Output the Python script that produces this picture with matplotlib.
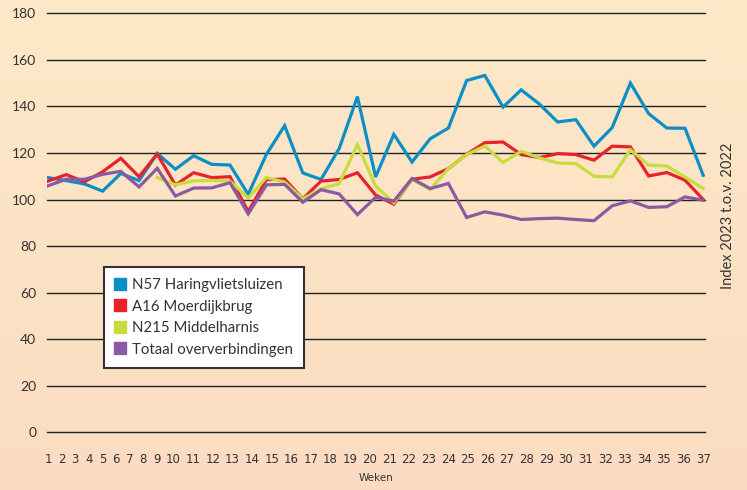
import numpy as np
import matplotlib
matplotlib.use("Agg")
import matplotlib.pyplot as plt
from matplotlib.colors import LinearSegmentedColormap
from matplotlib.lines import Line2D

weeks = list(range(1, 38))
week_labels = [str(w) for w in weeks]

n57 = [109.4, 108.1, 106.7, 103.6, 111.2, 108.1, 119.8, 113.0, 118.8, 115.1,
       114.8, 102.2, 119.4, 131.7, 111.4, 108.6, 121.9, 144.2, 109.7, 128.0,
       116.1, 126.1, 130.7, 151.1, 153.3, 139.7, 147.1, 141.0, 133.3, 134.3,
       122.9, 130.9, 150.0, 136.9, 130.7, 130.6, 110.4]
a16 = [107.9, 110.7, 107.6, 111.9, 117.7, 109.8, 119.5, 106.2, 111.5, 109.4,
       109.8, 94.8, 108.5, 108.8, 100.3, 107.9, 108.6, 111.5, 101.9, 98.0,
       108.7, 109.7, 113.3, 119.4, 124.4, 124.7, 119.3, 118.0, 119.7, 119.3,
       116.9, 122.9, 122.6, 110.1, 111.6, 108.3, 100.0]
n215 = [np.nan] * 6 + [109.5, 106.3, 108.0, 108.2, 107.9, 100.7, 109.4, 107.5,
        100.3, 104.6, 106.8, 123.6, 105.7, 98.6, 108.6, 104.3, 113.3, 119.3,
        123.0, 115.9, 120.7, 117.9, 115.7, 115.4, 110.0, 109.7, 121.4, 114.7,
        114.4, 109.7, 104.7]
totaal = [105.9, 108.7, 108.7, 110.8, 112.1, 105.4, 113.4, 101.5, 104.9, 105.0,
          107.2, 93.8, 106.3, 106.5, 98.8, 104.2, 102.4, 93.5, 100.9, 99.3,
          109.0, 104.7, 106.9, 92.3, 94.7, 93.3, 91.4, 91.8, 92.0, 91.4,
          90.9, 97.3, 99.4, 96.6, 96.9, 101.1, 99.7]

series = [
    ("N57 Haringvlietsluizen", n57, "#0b8fc5", 2),
    ("A16 Moerdijkbrug", a16, "#e8212b", 3),
    ("N215 Middelharnis", n215, "#c7dc3d", 4),
    ("Totaal oververbindingen", totaal, "#8b5aa2", 5),
]

# x labels in the source are laid out like a line of text, not under the points
def label_positions(labels, gap=1.27):
    c = [0.0]
    for prev, cur in zip(labels[:-1], labels[1:]):
        c.append(c[-1] + (len(prev) + len(cur)) / 2 + gap)
    c = np.array(c)
    return weeks[0] + c / c[-1] * (weeks[-1] - weeks[0])


fig = plt.figure(figsize=(7.47, 4.9), dpi=100)

# background gradient
bg = fig.add_axes([0, 0, 1, 1], zorder=-1)
cmap = LinearSegmentedColormap.from_list("bg", ["#fde9c8", "#fbdcc2"])
bg.imshow(np.linspace(0, 1, 256).reshape(-1, 1), aspect="auto", cmap=cmap,
          extent=[0, 1, 0, 1])
bg.axis("off")

ax = fig.add_axes([0.0633, 0.1178, 0.8805, 0.8551])
ax.patch.set_alpha(0)

for label, vals, color, z in series:
    ax.plot(weeks, vals, color=color, lw=2.3, zorder=z,
            solid_joinstyle="miter", label=label)

ax.set_xlim(0.96, 37.1)
ax.set_ylim(0, 180)
ax.set_yticks(range(0, 181, 20))
ax.yaxis.grid(True, color="#222222", lw=1.0)
for gl in ax.get_ygridlines():
    gl.set_clip_on(False)
ax.set_axisbelow(True)
for sp in ax.spines.values():
    sp.set_visible(False)

ax.tick_params(axis="y", length=0, pad=8, labelsize=10, labelcolor="#333333")
for t in ax.get_yticklabels():
    t.set_family(["Lato", "DejaVu Sans"])

ax.set_xticks(label_positions(week_labels))
ax.set_xticklabels(week_labels)
ax.tick_params(axis="x", length=0, pad=15, labelsize=8.5, labelcolor="#333333")
for t in ax.get_xticklabels():
    t.set_family(["Liberation Sans Narrow", "DejaVu Sans"])

ax.set_xlabel("Weken", fontsize=7.5, color="#333333", labelpad=5,
              family=["Liberation Sans Narrow", "DejaVu Sans"])

fig.text(0.975, 0.559, "Index 2023 t.o.v. 2022", rotation=90, ha="center",
         va="center", fontsize=10.5, color="#333333", family=["Lato", "DejaVu Sans"])

handles = [Line2D([], [], marker="s", ls="none", markersize=8.5, color=c)
           for _, _, c, _ in series]
leg = ax.legend(handles, [s[0] for s in series], loc="upper left",
                bbox_to_anchor=(0.086, 0.3945), borderaxespad=0,
                fancybox=False, framealpha=1, edgecolor="#333333",
                prop={"family": ["Lato", "DejaVu Sans"], "size": 10.8},
                handlelength=0.7, handletextpad=0.4, labelspacing=0.5,
                borderpad=0.75)
leg.get_frame().set_linewidth(1.5)
for txt in leg.get_texts():
    txt.set_color("#333333")

fig.savefig("out.png", dpi=100)
